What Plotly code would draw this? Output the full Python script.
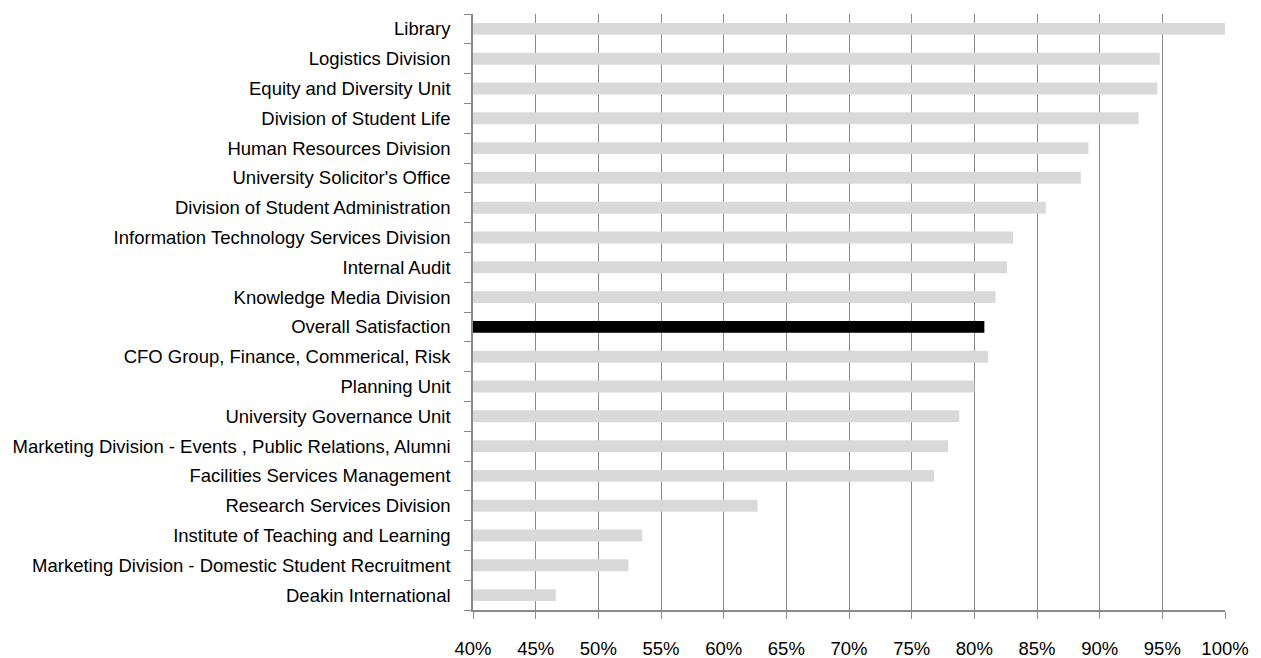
import plotly.graph_objects as go

categories = [
    "Library",
    "Logistics Division",
    "Equity and Diversity Unit",
    "Division of Student Life",
    "Human Resources Division",
    "University Solicitor's Office",
    "Division of Student Administration",
    "Information Technology Services Division",
    "Internal Audit",
    "Knowledge Media Division",
    "Overall Satisfaction",
    "CFO Group, Finance, Commerical, Risk",
    "Planning Unit",
    "University Governance Unit",
    "Marketing Division - Events , Public Relations, Alumni",
    "Facilities Services Management",
    "Research Services Division",
    "Institute of Teaching and Learning",
    "Marketing Division - Domestic Student Recruitment",
    "Deakin International",
]
values = [100.0, 94.8, 94.6, 93.1, 89.1, 88.5, 85.7, 83.1, 82.6, 81.7,
          80.8, 81.1, 80.0, 78.8, 77.9, 76.8, 62.7, 53.5, 52.4, 46.6]
highlight = "Overall Satisfaction"
x_ticks = list(range(40, 101, 5))
x_ticklabels = [f"{t}%" for t in x_ticks]

colors = ["#000000" if c == highlight else "#d9d9d9" for c in categories]

fig = go.Figure(go.Bar(
    y=categories,
    x=values,
    base=0,
    orientation="h",
    marker=dict(color=colors, line=dict(width=0)),
    width=0.4,
    hoverinfo="x+y",
))

font_family = "Liberation Sans Narrow, Arial Narrow, Liberation Sans, Arial, sans-serif"

fig.update_layout(
    width=1261,
    height=658,
    margin=dict(l=473, r=36, t=14, b=48),
    plot_bgcolor="white",
    paper_bgcolor="white",
    showlegend=False,
    font=dict(family=font_family, size=18.5, color="#000000"),
    xaxis=dict(
        range=[40, 100],
        tickvals=x_ticks,
        ticktext=x_ticklabels,
        showgrid=True,
        gridcolor="#8a8a8a",
        gridwidth=1,
        zeroline=False,
        showline=True,
        linecolor="#8a8a8a",
        linewidth=1.5,
        ticks="outside",
        ticklen=7,
        tickcolor="#8a8a8a",
        ticklabelstandoff=14,
        automargin=False,
        tickfont=dict(family=font_family, size=18.5, color="#000000"),
        fixedrange=True,
    ),
    yaxis=dict(
        categoryorder="array",
        categoryarray=categories[::-1],
        autorange=False,
        range=[-0.5, len(categories) - 0.5],
        showgrid=False,
        showline=True,
        linecolor="#8a8a8a",
        linewidth=1.5,
        ticks="outside",
        ticklen=7,
        tickcolor="#8a8a8a",
        tickson="boundaries",
        ticklabelstandoff=17,
        automargin=False,
        tickfont=dict(family=font_family, size=18.5, color="#000000"),
        fixedrange=True,
    ),
)

fig.write_html(
    "out.html",
    config={"displayModeBar": False},
    post_script="document.body.style.margin='0';",
)
